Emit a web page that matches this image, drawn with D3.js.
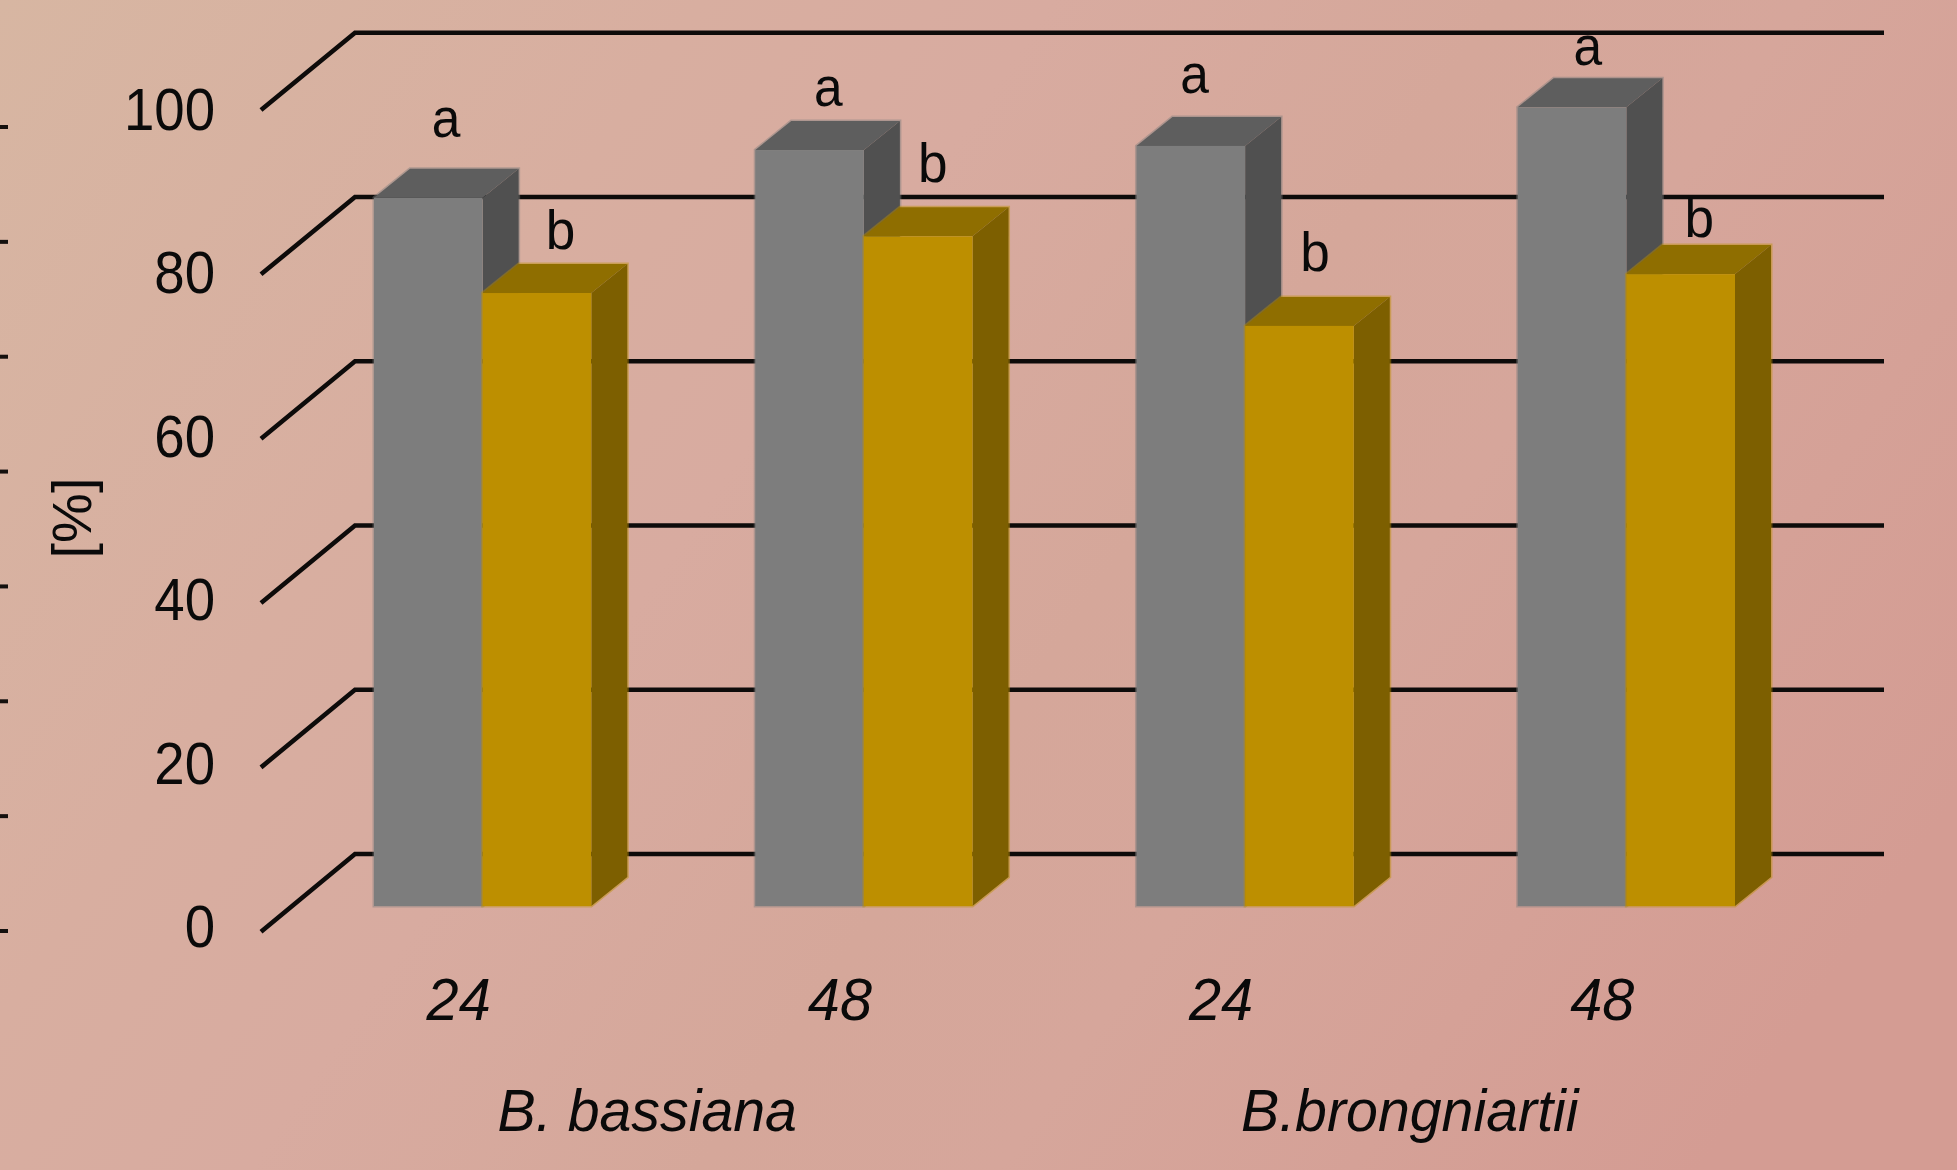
<!DOCTYPE html>
<html>
<head>
<meta charset="utf-8">
<script src="https://cdn.jsdelivr.net/npm/d3@7/dist/d3.min.js"></script>
<style>
  html, body { margin: 0; padding: 0; overflow: hidden; }
  svg { display: block; }
  text { font-family: "Liberation Sans", Arial, sans-serif; fill: #0a0a0a; }
</style>
</head>
<body>
<svg id="chart" width="1957" height="1170"></svg>
<script>
// Percentages per fungus / exposure time
const timeLabels = ["24", "48", "24", "48"];
const greyValues = [86.2, 92.0, 92.5, 97.2];
const goldValues = [74.6, 81.5, 70.6, 76.9];
const greyLetters = ["a", "a", "a", "a"];
const goldLetters = ["b", "b", "b", "b"];
// Heights (in % units) where the significance letters sit
const greyLetterLevels = [93.6, 97.4, 99.0, 102.3];
const goldLetterLevels = [80.0, 88.1, 77.3, 81.4];
const speciesLabels = ["B. bassiana", "B.brongniartii"];
const yTicks = [0, 20, 40, 60, 80, 100];

const width = 1957, height = 1170;
const svg = d3.select("#chart");

// Diagonal background wash
const defs = svg.append("defs");
const wash = defs.append("linearGradient").attr("id", "wash")
  .attr("gradientUnits", "userSpaceOnUse")
  .attr("x1", 0).attr("y1", 0).attr("x2", 1700).attr("y2", 1170);
[[0, "#d7b6a2"], [0.28, "#d8aea0"], [0.42, "#d8aba0"], [0.6, "#d5a79a"], [0.72, "#d6a69b"], [1, "#d49c93"]]
  .forEach(([o, c]) => wash.append("stop").attr("offset", o).attr("stop-color", c));
svg.append("rect").attr("width", width).attr("height", height).attr("fill", "url(#wash)");

// Vertical scales: front of the floor, back wall, bar front plane, axis label baselines
const yFront = d3.scaleLinear().domain([0, 100]).range([931.7, 110]);
const yBack = d3.scaleLinear().domain([0, 100]).range([854, 32.7]);
const yBar = d3.scaleLinear().domain([0, 100]).range([906, 84.3]);
const yLabel = d3.scaleLinear().domain([0, 100]).range([946.5, 129.5]);

// Horizontal scales
const xGroup = d3.scaleBand().domain(d3.range(timeLabels.length))
  .range([374, 1735]).paddingInner(0.43).paddingOuter(0);
const xBar = d3.scaleBand().domain([0, 1]).range([0, xGroup.bandwidth()]);

const wallFrontX = 261, wallBackX = 355, wallRight = 1884;
const depthX = 36, depthY = 29;

// Slanted floor-to-wall rules and the horizontal grid
const rule = d3.line();
svg.append("g").selectAll("path").data(yTicks).join("path")
  .attr("d", v => rule([[wallFrontX, yFront(v)], [wallBackX, yBack(v)], [wallRight, yBack(v)]]))
  .attr("fill", "none").attr("stroke", "#0d0b0a").attr("stroke-width", 4.6)
  .attr("stroke-linejoin", "miter");

// Stubs of a neighbouring axis along the left border
const edgeTick = d3.scaleLinear().domain([0, 7]).range([931, 127]);
svg.append("g").selectAll("rect").data(d3.range(8)).join("rect")
  .attr("x", 0).attr("y", i => edgeTick(i) - 2).attr("width", 8).attr("height", 4)
  .attr("fill", "#14100e");

function drawBar(g, x, w, value, face, top, side) {
  const yt = yBar(value), yb = yBar(0);
  const poly = pts => pts.map(p => p.join(",")).join(" ");
  const silhouette = poly([[x, yb], [x, yt], [x + depthX, yt - depthY],
    [x + w + depthX, yt - depthY], [x + w + depthX, yb - depthY], [x + w, yb]]);
  g.append("polygon").attr("points", silhouette).attr("fill", "none")
    .attr("stroke", face).attr("stroke-opacity", 0.45).attr("stroke-width", 3);
  g.append("polygon").attr("fill", top)
    .attr("points", poly([[x, yt], [x + depthX, yt - depthY], [x + w + depthX, yt - depthY], [x + w, yt]]));
  g.append("polygon").attr("fill", side)
    .attr("points", poly([[x + w, yt], [x + w + depthX, yt - depthY], [x + w + depthX, yb - depthY], [x + w, yb]]));
  g.append("rect").attr("x", x).attr("y", yt).attr("width", w).attr("height", yb - yt).attr("fill", face);
}

const bars = svg.append("g");
timeLabels.forEach((_, i) => {
  const g = bars.append("g").attr("transform", `translate(${xGroup(i)},0)`);
  drawBar(g, xBar(0), xBar.bandwidth(), greyValues[i], "#7d7d7d", "#5e5e5e", "#505050");
  drawBar(g, xBar(1), xBar.bandwidth(), goldValues[i], "#bd8f00", "#8f6e00", "#7d5f00");
});

// Text squeezed horizontally, as on the source slide
function label(x, y, txt, size, opts = {}) {
  return svg.append("text")
    .attr("transform", `translate(${x},${y}) scale(${opts.sx ?? 0.87},1)`)
    .attr("text-anchor", opts.anchor ?? "middle")
    .attr("font-size", size)
    .attr("font-style", opts.italic ? "italic" : "normal")
    .text(txt);
}

// Value axis labels
const axisG = svg.append("g").attr("transform", "translate(215,0)")
  .call(d3.axisLeft(yLabel).tickValues(yTicks).tickSize(0).tickPadding(0));
axisG.select(".domain").remove();
axisG.selectAll("text")
  .attr("x", null).attr("dy", null)
  .attr("transform", "scale(0.91,1)")
  .attr("text-anchor", "end")
  .style("font-family", '"Liberation Sans", Arial, sans-serif')
  .attr("font-size", 60);

// Significance letters
const greyLetterDx = [72, 73, 58, 70];
const goldLetterDx = [78, 69, 70, 73];
timeLabels.forEach((_, i) => {
  label(xGroup(i) + xBar(0) + greyLetterDx[i], yBar(greyLetterLevels[i]), greyLetters[i], 56, { sx: 0.92 });
  label(xGroup(i) + xBar(1) + goldLetterDx[i], yBar(goldLetterLevels[i]), goldLetters[i], 56, { sx: 0.95 });
});

// Category labels, centred a little left of each bar pair's middle
timeLabels.forEach((t, i) => {
  label(xGroup(i) + xBar.bandwidth() - 24, 1020, t, 60, { italic: true, sx: 0.96 });
});
speciesLabels.forEach((s, i) => {
  // Each species name sits under its pair of time labels
  const c = (xGroup(i * 2) + xGroup(i * 2 + 1)) / 2 + xBar.bandwidth() - 26;
  label(c, 1131, s, 60, { italic: true, sx: 0.955 });
});

// Unit label
svg.append("text")
  .attr("transform", "translate(91,518) rotate(-90)")
  .attr("text-anchor", "middle").attr("font-size", 56).text("[%]");
</script>
</body>
</html>
